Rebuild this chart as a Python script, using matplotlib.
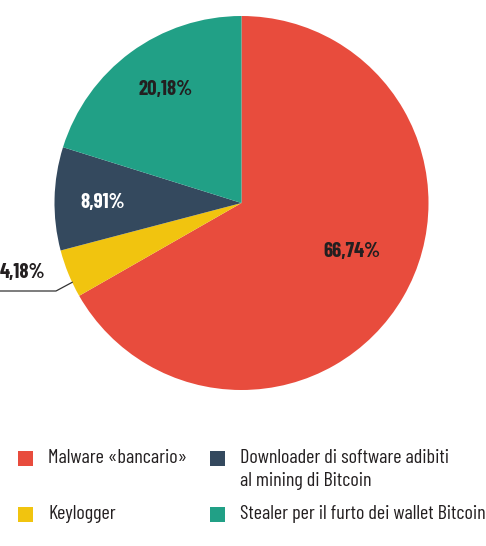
import numpy as np
import matplotlib
matplotlib.use("Agg")
import matplotlib.pyplot as plt
from matplotlib.patches import Rectangle
from matplotlib import font_manager

names = {f.name for f in font_manager.fontManager.ttflist}
FONT = "DejaVu Sans"
for cand in ["Barlow Condensed", "Barlow Semi Condensed", "Asap Condensed", "Archivo Narrow"]:
    if cand in names:
        FONT = cand
        break
plt.rcParams['font.family'] = [FONT, 'DejaVu Sans']

labels = ["Malware «bancario»", "Keylogger",
          "Downloader di software adibiti\nal mining di Bitcoin",
          "Stealer per il furto dei wallet Bitcoin"]
values = [66.74, 4.18, 8.91, 20.18]
pct_text = ["66,74%", "4,18%", "8,91%", "20,18%"]
colors = ["#E84C3D", "#F1C40F", "#34495E", "#21A086"]

W, H = 486, 546
fig = plt.figure(figsize=(W / 100, H / 100), dpi=100)
ax = fig.add_axes([0, 0, 1, 1])

cx, cy, r = 241.5, H - 203, 187
wedges, _ = ax.pie(values, colors=colors, startangle=90, counterclock=False,
                   center=(cx, cy), radius=r, frame=True,
                   wedgeprops=dict(linewidth=0))
ax.set_xlim(0, W)
ax.set_ylim(0, H)
ax.set_aspect('equal')
ax.axis('off')

# label placement (radius fraction, angle shift in degrees)
label_r = [0.645, None, 0.74, 0.73]
label_shift = [6.5, 0, 1, -2.3]
label_col = ["#231F20", "#231F20", "white", "#231F20"]
for i, w in enumerate(wedges):
    ang = np.deg2rad((w.theta1 + w.theta2) / 2 + label_shift[i])
    if label_r[i] is None:
        # outside label with leader line
        px = cx + r * np.cos(ang + 0.05)
        py = cy + r * np.sin(ang + 0.05)
        ax.plot([px, 56, 0], [py, H - 291, H - 291], color="#333333", lw=0.9)
        ax.text(0, H - 273, pct_text[i], ha='left', va='center',
                fontsize=15, fontweight='bold', color=label_col[i])
        continue
    tx = cx + r * label_r[i] * np.cos(ang)
    ty = cy + r * label_r[i] * np.sin(ang)
    ax.text(tx, ty, pct_text[i], ha='center', va='center',
            fontsize=15, fontweight='bold', color=label_col[i])

# legend
pos = [(18, H - 458), (18, H - 514), (210, H - 458), (210, H - 514)]
for i, (x, y) in enumerate(pos):
    ax.add_patch(Rectangle((x, y - 7.5), 15, 15, color=colors[i], lw=0))
    ax.text(x + 30, y + 9, labels[i], ha='left', va='top',
            fontsize=14.5, color="#231F20", linespacing=1.35)

fig.savefig("out.png", dpi=100)
